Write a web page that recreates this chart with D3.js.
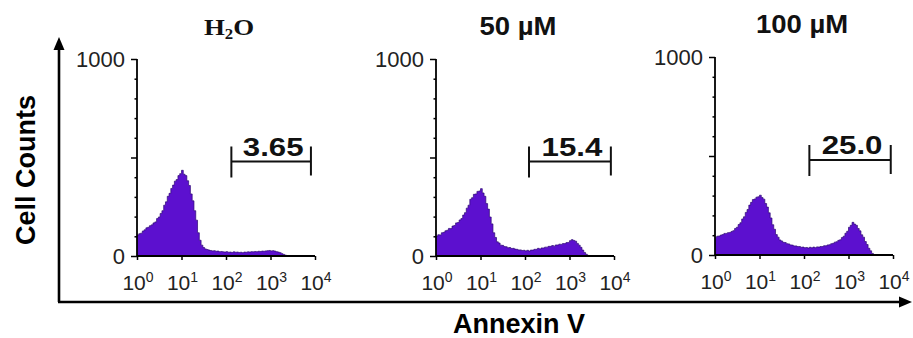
<!DOCTYPE html>
<html><head><meta charset="utf-8">
<script src="https://cdn.jsdelivr.net/npm/d3@7"></script>
<style>html,body{margin:0;padding:0;background:#fff;}svg{display:block;}</style>
</head><body>
<svg id="c" width="913" height="338"></svg>
<script>
// ---- data ----
const panelTitles = ["H2O", "50 µM", "100 µM"];
const gatePercents = ["3.65", "15.4", "25.0"];
const gateRanges = [[132, 8100], [123, 8500], [132, 8900]]; // Annexin V intensity range of the gate
const binWidthDecades = 0.04; // each histogram channel spans 0.04 decade, starting at 10^0
const countsH2O = [107,113,116,127,133,143,146,154,158,168,
 173,190,198,216,230,258,275,303,318,343,
 360,380,388,408,418,435,415,408,382,358,
 315,280,230,182,118,80,55,43,36,33,
 30,28,26,27,24,25,22,23,21,20,
 22,19,20,18,21,19,20,18,19,17,
 20,19,21,20,22,21,23,22,24,23,
 25,24,26,27,28,26,27,25,22,20,
 17,12,8,4,0];
const counts50 = [101,108,107,118,120,128,131,140,139,152,
 155,168,170,183,190,208,220,243,258,288,
 296,313,315,328,330,342,320,303,266,238,
 198,163,118,94,72,66,55,54,48,47,
 42,43,38,39,35,34,31,31,28,29,
 26,29,25,30,30,34,34,39,36,41,
 41,45,45,49,49,53,50,56,56,60,
 59,63,63,68,69,78,83,79,75,64,
 55,44,30,18,9,3,0];
const counts100 = [90,95,96,101,103,109,109,113,114,119,
 123,134,140,154,163,182,193,215,230,252,
 266,280,283,292,294,302,290,282,260,242,
 213,187,153,130,103,90,76,71,64,63,
 57,56,51,50,46,46,43,43,39,40,
 37,38,35,39,36,40,37,41,40,43,
 43,47,47,51,52,57,59,65,67,74,
 77,88,95,110,120,140,150,165,156,150,
 134,122,102,90,68,53,34,21,8,0];
const seriesCounts = [countsH2O, counts50, counts100];
const xDomain = [1, 10000];
const xTickValues = [1, 10, 100, 1000, 10000];
const xTickExponents = ["0", "1", "2", "3", "4"];
const yDomain = [0, 1000];
const yMajorTicks = [0, 500, 1000];
const yMinorTicks = [100, 200, 300, 400, 600, 700, 800, 900];
const yTickLabels = {0: "0", 1000: "1000"};

// ---- layout ----
const panels = [
  {left: 137, top: 59, bottom: 256, titleX: 229, titleY: 35},
  {left: 436, top: 59, bottom: 256, titleX: 518, titleY: 35},
  {left: 715, top: 57, bottom: 255, titleX: 802, titleY: 33}
];
const plotW = 178;
const fillColor = "#5c10cf";
const edgeColor = "#2e0875";

const svg = d3.select("#c");

// Big arrow axes
const axG = svg.append("g");
axG.append("line").attr("x1", 59).attr("y1", 302).attr("x2", 59).attr("y2", 48)
  .attr("stroke", "#000").attr("stroke-width", 2.6);
axG.append("path").attr("d", "M59,37 L53.5,50 L64.5,50 Z").attr("fill", "#000");
axG.append("line").attr("x1", 58).attr("y1", 302).attr("x2", 901).attr("y2", 302)
  .attr("stroke", "#000").attr("stroke-width", 2.6);
axG.append("path").attr("d", "M912,302 L899,296.5 L899,307.5 Z").attr("fill", "#000");

svg.append("text").attr("transform", "translate(35,170) rotate(-90)")
  .attr("text-anchor", "middle").attr("font-family", "Liberation Sans, Arial, sans-serif")
  .attr("font-weight", "bold").attr("font-size", 27).text("Cell Counts");
svg.append("text").attr("x", 519).attr("y", 333)
  .attr("text-anchor", "middle").attr("font-family", "Liberation Sans, Arial, sans-serif")
  .attr("font-weight", "bold").attr("font-size", 27).text("Annexin V");

panels.forEach((p, k) => {
  const x = d3.scaleLog().domain(xDomain).range([p.left, p.left + plotW]);
  const y = d3.scaleLinear().domain(yDomain).range([p.bottom, p.top]);
  const g = svg.append("g");

  // histogram
  const counts = seriesCounts[k];
  const pts = counts.map((c, i) => ({v: Math.pow(10, i * binWidthDecades), c}));
  pts.push({v: Math.pow(10, counts.length * binWidthDecades), c: 0});
  const area = d3.area().x(d => x(d.v)).y0(y(0)).y1(d => y(d.c)).curve(d3.curveStepAfter);
  const line = d3.line().x(d => x(d.v)).y(d => y(d.c)).curve(d3.curveStepAfter);
  g.append("path").datum(pts).attr("d", area).attr("fill", fillColor);
  g.append("path").datum(pts).attr("d", line).attr("fill", "none")
    .attr("stroke", edgeColor).attr("stroke-width", 0.7);

  // y axis
  const yAxis = d3.axisLeft(y).tickValues(yMajorTicks).tickSize(6).tickFormat(() => "");
  const ya = g.append("g").attr("transform", `translate(${p.left},0)`).call(yAxis);
  ya.select(".domain").attr("stroke-width", 1.8).attr("d", `M0,${y(0)}V${y(1000)}`);
  ya.selectAll(".tick line").attr("stroke-width", 1.5);
  const yMinor = d3.axisLeft(y).tickValues(yMinorTicks).tickSize(2.5).tickFormat(() => "");
  const ym = g.append("g").attr("transform", `translate(${p.left},0)`).call(yMinor);
  ym.select(".domain").remove();
  ym.selectAll(".tick line").attr("stroke-width", 1.5);
  [0, 1000].forEach(v => {
    g.append("text").attr("x", p.left - 12).attr("y", y(v) + 8)
      .attr("text-anchor", "end").attr("font-family", "Liberation Sans, Arial, sans-serif")
      .attr("font-size", 22).attr("fill", "#222").text(yTickLabels[v]);
  });

  // x axis
  const xAxis = d3.axisBottom(x).tickValues(xTickValues).tickSize(4).tickFormat(() => "");
  const xa = g.append("g").attr("transform", `translate(0,${y(0)})`).call(xAxis);
  xa.select(".domain").attr("stroke-width", 1.8).attr("d", `M${x(1)},0H${x(10000)}`);
  xa.selectAll(".tick line").attr("stroke-width", 1.5);
  xTickValues.forEach((v, i) => {
    const t = g.append("text").attr("x", x(v) + 1).attr("y", p.bottom + 34)
      .attr("text-anchor", "middle").attr("font-family", "Liberation Sans, Arial, sans-serif")
      .attr("font-size", 21).attr("fill", "#222");
    t.append("tspan").text("10");
    t.append("tspan").attr("font-size", 14).attr("dy", -8).text(xTickExponents[i]);
  });

  // gate
  const gr = gateRanges[k];
  const gy = y(500) + 4;
  const gg = g.append("g").attr("stroke", "#111").attr("stroke-width", 2);
  gg.append("line").attr("x1", x(gr[0])).attr("x2", x(gr[1])).attr("y1", gy).attr("y2", gy);
  gg.append("line").attr("x1", x(gr[0])).attr("x2", x(gr[0])).attr("y1", gy - 15).attr("y2", gy + 16);
  gg.append("line").attr("x1", x(gr[1])).attr("x2", x(gr[1])).attr("y1", gy - 15).attr("y2", gy + 14);
  const cx = (x(gr[0]) + x(gr[1])) / 2 + 2;
  g.append("text").attr("transform", `translate(${cx},${gy - 6}) scale(1.2,1)`)
    .attr("text-anchor", "middle").attr("font-family", "Liberation Sans, Arial, sans-serif")
    .attr("font-weight", "bold").attr("font-size", 26).attr("fill", "#111").text(gatePercents[k]);

  // title
  if (k === 0) {
    const t = svg.append("text").attr("transform", `translate(${p.titleX},${p.titleY}) scale(1.12,1)`)
      .attr("text-anchor", "middle").attr("font-family", "Liberation Serif, Times New Roman, serif")
      .attr("font-weight", "bold").attr("font-size", 24).attr("fill", "#111");
    t.append("tspan").text("H");
    t.append("tspan").attr("font-size", 15).attr("dy", 4).text("2");
    t.append("tspan").attr("dy", -4).text("O");
  } else {
    svg.append("text").attr("transform", `translate(${p.titleX},${p.titleY}) scale(1.1,1)`)
      .attr("text-anchor", "middle").attr("font-family", "Liberation Sans, Arial, sans-serif")
      .attr("font-weight", "bold").attr("font-size", 25).attr("fill", "#111").text(panelTitles[k]);
  }
});
</script>
</body></html>
